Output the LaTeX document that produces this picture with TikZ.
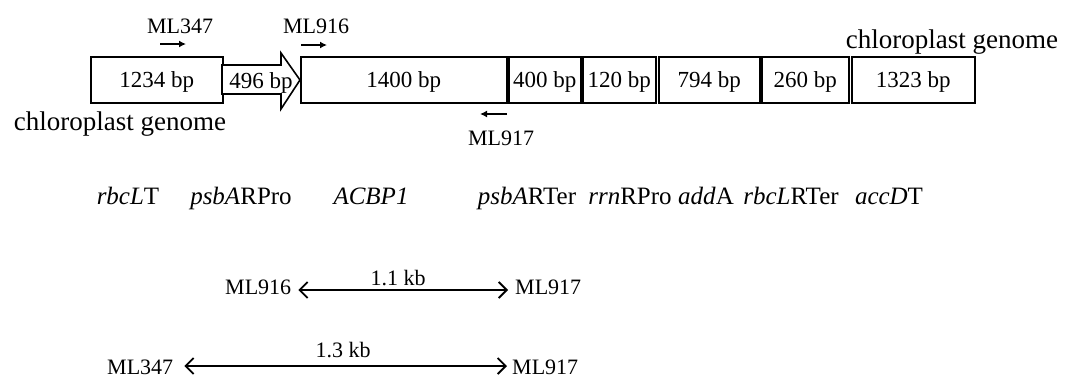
\documentclass[tikz,border=0pt]{standalone}
\usepackage{fontspec}
\setmainfont{Liberation Serif}
\usetikzlibrary{arrows.meta}
\begin{document}
\begin{tikzpicture}[x=1pt,y=-1pt,
  seg/.style={draw, line width=1.6pt, inner sep=0pt, anchor=north west,
    minimum height=46pt, text height=16pt, text depth=0pt, font=\fontsize{23}{26}\selectfont},
  prim/.style={font=\fontsize{22}{25}\selectfont, inner sep=0pt},
  gene/.style={font=\fontsize{25}{28}\selectfont, inner sep=0pt, anchor=base},
  genome/.style={font=\fontsize{27}{30}\selectfont, inner sep=0pt, anchor=base},
  kb/.style={font=\fontsize{22}{25}\selectfont, inner sep=0pt, anchor=base},
  primarrow/.style={line width=1.5pt, -{Latex[length=7pt,width=7pt]}},
  span/.style={line width=1.6pt, {Straight Barb[length=8pt,width=16pt,line width=1.8pt]}-{Straight Barb[length=8pt,width=16pt,line width=1.8pt]}}
]
\useasboundingbox (0,0) rectangle (1066,378);

% segments
\node[seg, minimum width=132pt] (b1) at (90,56) {1234 bp};
\draw[line width=1.6pt, fill=white] (222,65) -- (281,65) -- (281,53) -- (300,80) -- (281,109) -- (281,94) -- (222,94) -- cycle;
\node[font=\fontsize{23}{26}\selectfont, inner sep=0pt, anchor=base] (b496) at (261,88) {496 bp};
\node[seg, minimum width=206pt] (b2) at (300,56) {1400 bp};
\node[seg, minimum width=72pt]  (b3) at (508,56) {400 bp};
\node[seg, minimum width=73pt]  (b4) at (582,56) {120 bp};
\node[seg, minimum width=101pt] (b5) at (658,56) {794 bp};
\node[seg, minimum width=87pt]  (b6) at (761,56) {260 bp};
\node[seg, minimum width=123pt] (b7) at (851,56) {1323 bp};

% genome labels
\node[genome] (gl) at (120,130) {chloroplast genome};
\node[genome] (gr) at (952,48) {chloroplast genome};

% primers
\node[prim, anchor=base] (p347) at (180,33) {ML347};
\node[prim, anchor=base] (p916) at (316,33) {ML916};
\node[prim, anchor=base] (p917) at (501,145) {ML917};
\coordinate (a1s) at (160,44); \coordinate (a1e) at (186,44);
\coordinate (a2s) at (301,45); \coordinate (a2e) at (327,45);
\coordinate (a3s) at (507,114); \coordinate (a3e) at (480,114);
\draw[primarrow] (a1s) -- (a1e);
\draw[primarrow] (a2s) -- (a2e);
\draw[primarrow] (a3s) -- (a3e);

% gene names
\node[gene] (g1) at (128,204) {\textit{rbcL}T};
\node[gene] (g2) at (241,204) {\textit{psbA}RPro};
\node[gene] (g3) at (371,204) {\textit{ACBP1}};
\node[gene] (g4) at (527,204) {\textit{psbA}RTer};
\node[gene] (g5) at (630,204) {\textit{rrn}RPro};
\node[gene] (g6) at (706,204) {\textit{add}A};
\node[gene] (g7) at (791,204) {\textit{rbcL}RTer};
\node[gene] (g8) at (889,204) {\textit{accD}T};

% PCR products
\node[prim, anchor=base west] (m916) at (225,294) {ML916};
\node[prim, anchor=base west] (m917a) at (515,294) {ML917};
\node[prim, anchor=base west] (m347) at (107,374) {ML347};
\node[prim, anchor=base west] (m917b) at (512,374) {ML917};
\draw[span] ([xshift=7pt,yshift=4pt]m916.base east) -- ([xshift=-7pt,yshift=4pt]m917a.base west);
\draw[span] ([xshift=11pt,yshift=8pt]m347.base east) -- ([xshift=-5pt,yshift=8pt]m917b.base west);
\node[kb] (k1) at (398,285) {1.1 kb};
\node[kb] (k2) at (343,357) {1.3 kb};
\end{tikzpicture}
\end{document}
